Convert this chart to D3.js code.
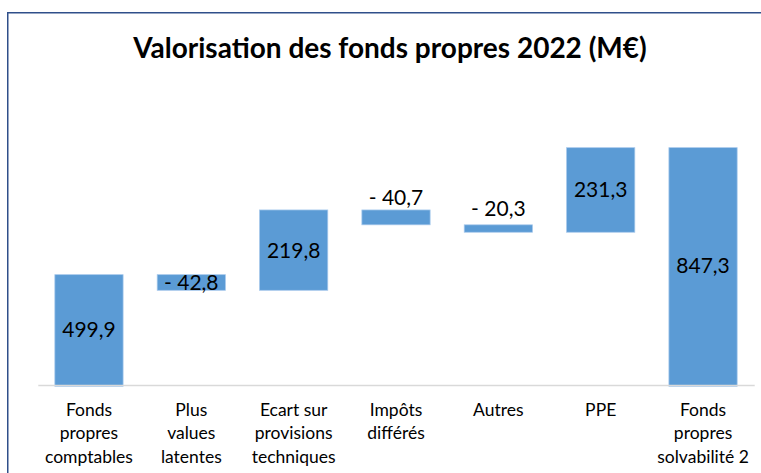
<!DOCTYPE html>
<html>
<head>
<meta charset="utf-8">
<script src="https://cdn.jsdelivr.net/npm/d3@7"></script>
<style>
  html, body { margin: 0; padding: 0; background: #ffffff; }
  text { font-family: Lato, "Open Sans", "DejaVu Sans", sans-serif; }
</style>
</head>
<body>
<svg id="chart" width="761" height="473"></svg>
<script>
// ---- Data ----
const chartTitle = "Valorisation des fonds propres 2022 (M€)";
const categories = [
  "Fonds\npropres\ncomptables",
  "Plus\nvalues\nlatentes",
  "Ecart sur\nprovisions\ntechniques",
  "Impôts\ndifférés",
  "Autres",
  "PPE",
  "Fonds\npropres\nsolvabilité 2"
];
const values = [499.9, -42.8, 219.8, -40.7, -20.3, 231.3, 847.3];
const isTotal = [true, false, false, false, false, false, true];
const yDomain = [200, 1000];

// ---- Build waterfall segments ----
let running = 0;
const segments = values.map((v, i) => {
  let start, end;
  if (isTotal[i]) { start = yDomain[0]; end = v; running = v; }
  else { start = running; end = running + v; running = end; }
  return { cat: categories[i], value: v, total: isTotal[i], lo: Math.min(start, end), hi: Math.max(start, end) };
});

const fmt = v => (v < 0 ? "- " : "") + Math.abs(v).toFixed(1).replace(".", ",");

// ---- Layout ----
const svg = d3.select("#chart");
const W = 761, H = 473;

// frame
svg.append("rect")
  .attr("x", 7.75).attr("y", 12.75)
  .attr("width", W + 20).attr("height", H + 20)
  .attr("fill", "#ffffff")
  .attr("stroke", "#2f4f8a").attr("stroke-width", 1.5);

// title
svg.append("text")
  .attr("x", 390).attr("y", 58)
  .attr("text-anchor", "middle")
  .attr("font-weight", "bold")
  .attr("font-size", 28)
  .attr("fill", "#000000")
  .text(chartTitle);

const x = d3.scaleBand()
  .domain(categories)
  .range([37.8, 754.2])
  .paddingInner(0.333)
  .paddingOuter(0.1665);

const yBottom = 384.3;
const y = d3.scaleLinear()
  .domain(yDomain)
  .range([yBottom, yBottom - 800 * 0.3656]);

// bars
const bars = svg.append("g");
bars.selectAll("rect")
  .data(segments)
  .join("rect")
  .attr("x", d => x(d.cat))
  .attr("width", x.bandwidth())
  .attr("y", d => y(d.hi))
  .attr("height", d => (d.total ? y(d.lo) + 2 : y(d.lo)) - y(d.hi))
  .attr("fill", "#5b9bd5")
  .attr("stroke", "#a8c9ec")
  .attr("stroke-width", 0.75);

// axis
const axis = svg.append("g")
  .attr("transform", `translate(0,${yBottom + 0.6})`)
  .call(d3.axisBottom(x).tickSize(0).tickPadding(0));
axis.select(".domain").attr("stroke", "#d9d9d9").attr("stroke-width", 1.5);
axis.selectAll(".tick text").each(function(d) {
  const t = d3.select(this);
  t.text(null)
    .attr("y", 0)
    .attr("dy", null)
    .attr("font-size", 17.5)
    .attr("font-family", "Lato, 'Open Sans', sans-serif")
    .attr("fill", "#000000");
  d.split("\n").forEach((line, k) => {
    t.append("tspan").attr("x", 0).attr("y", 31 + k * 23.6).text(line);
  });
});

// data labels
svg.append("g").selectAll("text")
  .data(segments)
  .join("text")
  .attr("x", d => x(d.cat) + x.bandwidth() / 2)
  .attr("y", d => {
    const mid = (y(d.hi) + y(d.lo)) / 2;
    const small = !d.total && Math.abs(d.value) < 41;
    return (small ? mid - 20 : mid) + 7.5;
  })
  .attr("text-anchor", "middle")
  .attr("font-size", 21)
  .attr("fill", "#000000")
  .text(d => fmt(d.value));
</script>
</body>
</html>
